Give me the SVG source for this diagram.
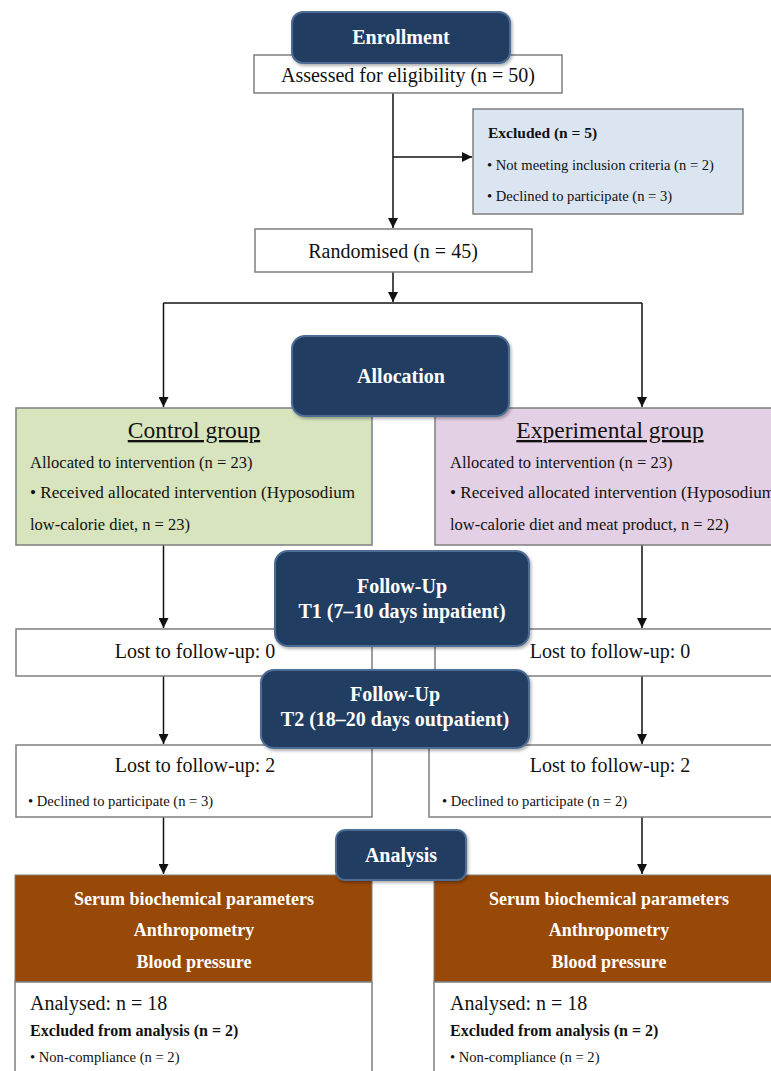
<svg xmlns="http://www.w3.org/2000/svg" width="771" height="1071" viewBox="0 0 771 1071">
<defs>
<marker id="arr" viewBox="0 0 10 10" refX="10" refY="5" markerWidth="10" markerHeight="10" markerUnits="userSpaceOnUse" orient="auto">
<path d="M0,0 L10,5 L0,10 Z" fill="#111"/>
</marker>
<filter id="sh" x="-10%" y="-10%" width="125%" height="130%">
<feDropShadow dx="1.5" dy="2" stdDeviation="1.5" flood-color="#000" flood-opacity="0.3"/>
</filter>
</defs>
<style>
text{font-family:"Liberation Serif","Times New Roman",serif;fill:#111}
.box{fill:#fff;stroke:#7f7f7f;stroke-width:1.5}
.navy{fill:#223e62;stroke:#4d6d95;stroke-width:2;filter:url(#sh)}
.hd{fill:#fff;font-weight:bold;text-anchor:middle}
.big{font-size:20px}
.mid{font-size:16.5px}
.bul{font-size:17.1px}
.sm{font-size:14.6px}
.bw{fill:#fff;font-weight:bold;font-size:18px;text-anchor:middle}
.c{text-anchor:middle}
.conn{stroke:#111;stroke-width:1.5;fill:none}
</style>
<rect width="771" height="1071" fill="#fff"/>

<g id="connectors">
<path class="conn" d="M393,93 V228" marker-end="url(#arr)"/>
<path class="conn" d="M393,157 H472" marker-end="url(#arr)"/>
<path class="conn" d="M393,272 V302" marker-end="url(#arr)"/>
<path class="conn" d="M163.5,303 H642"/>
<path class="conn" d="M163.5,303 V407" marker-end="url(#arr)"/>
<path class="conn" d="M642,303 V407" marker-end="url(#arr)"/>
<path class="conn" d="M163.5,545 V628" marker-end="url(#arr)"/>
<path class="conn" d="M642,545 V628" marker-end="url(#arr)"/>
<path class="conn" d="M163.5,676 V744" marker-end="url(#arr)"/>
<path class="conn" d="M642,676 V744" marker-end="url(#arr)"/>
<path class="conn" d="M163.5,817 V874" marker-end="url(#arr)"/>
<path class="conn" d="M642,817 V874" marker-end="url(#arr)"/>
</g>

<g id="assessed">
<rect class="box" x="254" y="55" width="308" height="38"/>
<text class="big c" x="408" y="82">Assessed for eligibility (n = 50)</text>
</g>

<g id="enrollment">
<rect class="navy" x="292" y="12" width="218" height="51" rx="11"/>
<text class="hd big" x="401" y="44">Enrollment</text>
</g>

<g id="excluded">
<rect x="473" y="109" width="270" height="105" fill="#dbe5f1" stroke="#7f7f7f" stroke-width="1.5"/>
<text x="488" y="138" font-size="15.5px" font-weight="bold">Excluded (n = 5)</text>
<text class="sm" x="487" y="170">• Not meeting inclusion criteria (n = 2)</text>
<text class="sm" x="487" y="201">• Declined to participate (n = 3)</text>
</g>

<g id="randomised">
<rect class="box" x="255" y="229" width="277" height="43"/>
<text class="big c" x="393" y="258">Randomised (n = 45)</text>
</g>

<g id="control">
<rect x="16" y="408" width="356" height="137" fill="#d7e4bd" stroke="#7f7f7f" stroke-width="1.5"/>
<text class="c" x="194" y="438" font-size="23.5px" text-decoration="underline">Control group</text>
<text class="mid" x="30" y="468">Allocated to intervention (n = 23)</text>
<text class="bul" x="30" y="498">• Received allocated intervention (Hyposodium</text>
<text class="mid" x="30" y="530">low-calorie diet, n = 23)</text>
</g>

<g id="experimental">
<rect x="435" y="408" width="360" height="137" fill="#e4d0e4" stroke="#7f7f7f" stroke-width="1.5"/>
<text class="c" x="610" y="438" font-size="23.5px" text-decoration="underline">Experimental group</text>
<text class="mid" x="450" y="468">Allocated to intervention (n = 23)</text>
<text class="bul" x="450" y="498">• Received allocated intervention (Hyposodium</text>
<text class="mid" x="450" y="530">low-calorie diet and meat product, n = 22)</text>
</g>

<g id="allocation">
<rect class="navy" x="292" y="336" width="217" height="80" rx="13"/>
<text class="hd big" x="401" y="383">Allocation</text>
</g>

<g id="lost1-control">
<rect class="box" x="16" y="629" width="356" height="47"/>
<text class="big c" x="195" y="658">Lost to follow-up: 0</text>
</g>
<g id="lost1-experimental">
<rect class="box" x="435" y="629" width="360" height="47"/>
<text class="big c" x="610" y="658">Lost to follow-up: 0</text>
</g>

<g id="followup-t1">
<rect class="navy" x="275" y="551" width="254" height="95" rx="13"/>
<text class="hd big" x="402" y="593">Follow-Up</text>
<text class="hd big" x="402" y="618">T1 (7–10 days inpatient)</text>
</g>

<g id="lost2-control">
<rect class="box" x="16" y="745" width="356" height="72"/>
<text class="big c" x="195" y="772">Lost to follow-up: 2</text>
<text class="sm" x="28" y="806">• Declined to participate (n = 3)</text>
</g>
<g id="lost2-experimental">
<rect class="box" x="429" y="745" width="366" height="72"/>
<text class="big c" x="610" y="772">Lost to follow-up: 2</text>
<text class="sm" x="442" y="806">• Declined to participate (n = 2)</text>
</g>

<g id="followup-t2">
<rect class="navy" x="261" y="670" width="268" height="78" rx="13"/>
<text class="hd big" x="395" y="701">Follow-Up</text>
<text class="hd big" x="395" y="726">T2 (18–20 days outpatient)</text>
</g>

<g id="analysis-control">
<rect x="15" y="875" width="357" height="107" fill="#984807" stroke="#7f7f7f" stroke-width="1"/>
<text class="bw" x="194" y="905">Serum biochemical parameters</text>
<text class="bw" x="194" y="936">Anthropometry</text>
<text class="bw" x="194" y="968">Blood pressure</text>
<rect class="box" x="15" y="982" width="357" height="100"/>
<text class="big" x="30" y="1010">Analysed: n = 18</text>
<text x="30" y="1036" font-size="16px" font-weight="bold">Excluded from analysis (n = 2)</text>
<text class="sm" x="30" y="1062">• Non-compliance (n = 2)</text>
</g>

<g id="analysis-experimental">
<rect x="434" y="875" width="361" height="107" fill="#984807" stroke="#7f7f7f" stroke-width="1"/>
<text class="bw" x="609" y="905">Serum biochemical parameters</text>
<text class="bw" x="609" y="936">Anthropometry</text>
<text class="bw" x="609" y="968">Blood pressure</text>
<rect class="box" x="434" y="982" width="361" height="100"/>
<text class="big" x="450" y="1010">Analysed: n = 18</text>
<text x="450" y="1036" font-size="16px" font-weight="bold">Excluded from analysis (n = 2)</text>
<text class="sm" x="450" y="1062">• Non-compliance (n = 2)</text>
</g>

<g id="analysis">
<rect class="navy" x="336" y="830" width="130" height="50" rx="9"/>
<text class="hd big" x="401" y="862">Analysis</text>
</g>
</svg>
